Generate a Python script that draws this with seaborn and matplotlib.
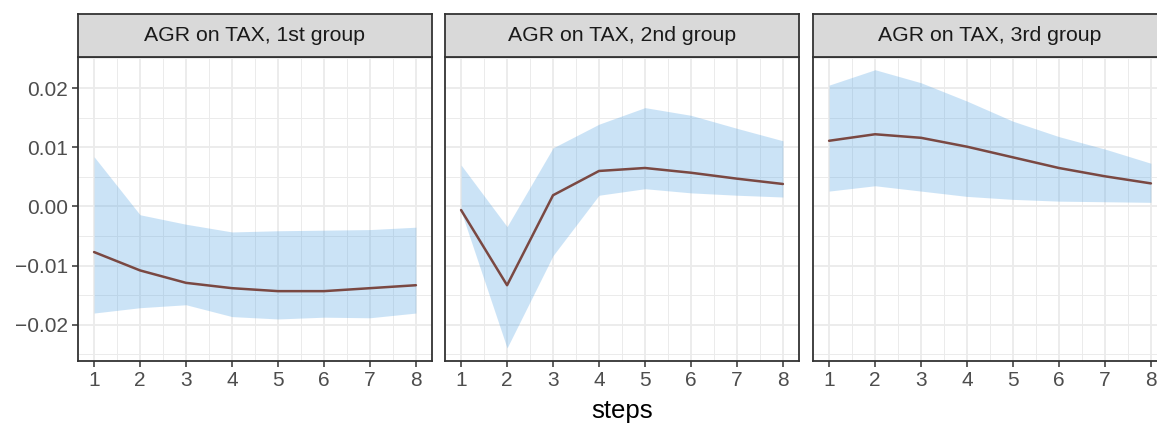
import numpy as np
import pandas as pd
import matplotlib
matplotlib.use("Agg")
import matplotlib.pyplot as plt
import matplotlib.ticker as mticker
import seaborn as sns

steps = [1, 2, 3, 4, 5, 6, 7, 8]
panel_titles = ["AGR on TAX, 1st group", "AGR on TAX, 2nd group", "AGR on TAX, 3rd group"]

mean_g1 = [-0.0077, -0.0108, -0.0129, -0.0138, -0.0143, -0.0143, -0.0138, -0.0133]
upper_g1 = [0.0084, -0.0014, -0.0030, -0.0043, -0.0041, -0.0040, -0.0039, -0.0035]
lower_g1 = [-0.0180, -0.0171, -0.0166, -0.0186, -0.0190, -0.0187, -0.0188, -0.0180]

mean_g2 = [-0.0006, -0.0133, 0.0019, 0.0060, 0.0065, 0.0057, 0.0047, 0.0038]
upper_g2 = [0.0070, -0.0034, 0.0099, 0.0139, 0.0167, 0.0154, 0.0132, 0.0111]
lower_g2 = [-0.0008, -0.0239, -0.0083, 0.0019, 0.0030, 0.0023, 0.0019, 0.0016]

mean_g3 = [0.0111, 0.0122, 0.0116, 0.0101, 0.0083, 0.0065, 0.0051, 0.0039]
upper_g3 = [0.0205, 0.0231, 0.0209, 0.0178, 0.0144, 0.0118, 0.0097, 0.0073]
lower_g3 = [0.0026, 0.0035, 0.0026, 0.0017, 0.0012, 0.0009, 0.0008, 0.0007]

means = [mean_g1, mean_g2, mean_g3]
uppers = [upper_g1, upper_g2, upper_g3]
lowers = [lower_g1, lower_g2, lower_g3]

rows = []
for t, m, u, l in zip(panel_titles, means, uppers, lowers):
    for s, mv, uv, lv in zip(steps, m, u, l):
        rows.append({"panel": t, "steps": s, "mean": mv, "upper": uv, "lower": lv})
df = pd.DataFrame(rows)

sns.set_theme(style="white")
plt.rcParams["font.family"] = ["Liberation Sans", "DejaVu Sans"]

W, H = 1157, 423
fig = plt.figure(figsize=(W / 100, H / 100), dpi=100)

panel_lefts = [78, 445, 813]
panel_w = 354
p_top, p_bot = 57, 361
strip_top = 14

line_col = "#7A4842"
fill_col = "#55A5E4"
border_col = "#333333"
grid_col = "#EBEBEB"

def fmt(v, pos):
    if abs(v) < 1e-12:
        v = 0.0
    return f"{v:.2f}".replace("-", "\u2212")

for i, title in enumerate(panel_titles):
    x0 = panel_lefts[i]
    ax = fig.add_axes([x0 / W, (H - p_bot) / H, panel_w / W, (p_bot - p_top) / H])
    sub = df[df["panel"] == title]
    ax.fill_between(sub["steps"], sub["lower"], sub["upper"], color=fill_col, alpha=0.3,
                    linewidth=0, zorder=2)
    sns.lineplot(data=sub, x="steps", y="mean", ax=ax, color=line_col, linewidth=1.8,
                 zorder=3, legend=False)
    ax.set_xlim(0.65, 8.35)
    ax.set_ylim(-0.0261, 0.02525)
    ax.xaxis.set_major_locator(mticker.MultipleLocator(1))
    ax.xaxis.set_minor_locator(mticker.MultipleLocator(0.5))
    ax.yaxis.set_major_locator(mticker.MultipleLocator(0.01))
    ax.yaxis.set_minor_locator(mticker.MultipleLocator(0.005))
    ax.yaxis.set_major_formatter(mticker.FuncFormatter(fmt))
    ax.grid(True, which="major", color=grid_col, linewidth=1.3, zorder=0)
    ax.grid(True, which="minor", color=grid_col, linewidth=0.7, zorder=0)
    ax.set_axisbelow(True)
    ax.set_facecolor("white")
    for sp in ax.spines.values():
        sp.set_color(border_col)
        sp.set_linewidth(1.3)
        sp.set_visible(True)
    ax.tick_params(axis="both", which="major", length=4, width=1.1, color=border_col,
                   labelcolor="#4D4D4D", labelsize=15, pad=3, bottom=True, left=(i == 0))
    ax.tick_params(axis="both", which="minor", length=0)
    if i != 0:
        ax.tick_params(axis="y", labelleft=False, left=False)
    ax.set_ylabel("")
    ax.set_xlabel("steps" if i == 1 else "", fontsize=18.5, color="black", labelpad=7)

    sax = fig.add_axes([x0 / W, (H - p_top) / H, panel_w / W, (p_top - strip_top) / H])
    sax.set_facecolor("#D9D9D9")
    sax.set_xticks([])
    sax.set_yticks([])
    for sp in sax.spines.values():
        sp.set_color(border_col)
        sp.set_linewidth(1.3)
    sax.text(0.5, 0.5, title, transform=sax.transAxes, ha="center", va="center",
             fontsize=15.3, color="#1A1A1A")

fig.savefig("out.png", dpi=100, facecolor="white")
